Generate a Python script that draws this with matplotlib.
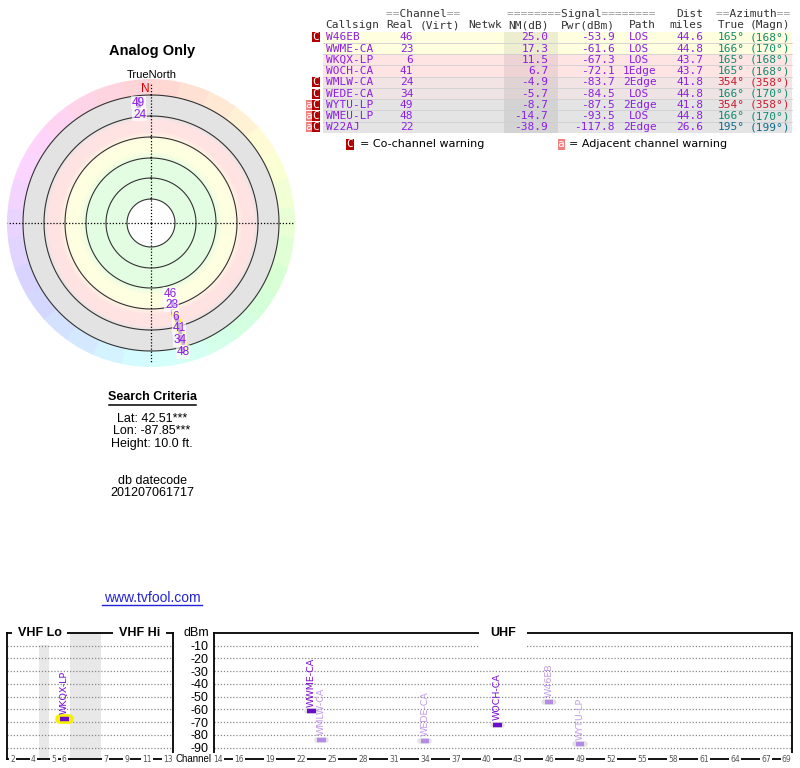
import colorsys
import numpy as np
import matplotlib.pyplot as plt
from matplotlib.patches import Rectangle

plt.rcParams['font.family'] = ['Liberation Sans', 'DejaVu Sans']

# Station table
callsigns = ['W46EB', 'WWME-CA', 'WKQX-LP', 'WOCH-CA', 'WMLW-CA', 'WEDE-CA', 'WYTU-LP', 'WMEU-LP', 'W22AJ']
real_ch = [46, 23, 6, 41, 24, 34, 49, 48, 22]
nm_db = [25.0, 17.3, 11.5, 6.7, -4.9, -5.7, -8.7, -14.7, -38.9]
pwr_dbm = [-53.9, -61.6, -67.3, -72.1, -83.7, -84.5, -87.5, -93.5, -117.8]
paths = ['LOS', 'LOS', 'LOS', '1Edge', '2Edge', 'LOS', '2Edge', 'LOS', '2Edge']
dist_mi = [44.6, 44.8, 43.7, 43.7, 41.8, 44.8, 41.8, 44.8, 26.6]
az_true = [165, 166, 165, 165, 354, 166, 354, 166, 195]
az_magn = [168, 170, 168, 168, 358, 170, 358, 170, 199]
co_warn = [True, False, False, False, True, True, True, True, True]
adj_warn = [False, False, False, False, False, False, True, True, True]
analog = ['WKQX-LP']

# Spectrum axes
dbm_ticks = [-10, -20, -30, -40, -50, -60, -70, -80, -90]
vhf_ticks = [2, 4, 5, 6, 7, 9, 11, 13]
uhf_ticks = [14, 16, 19, 22, 25, 28, 31, 34, 37, 40, 43, 46, 49, 52, 55, 58, 61, 64, 67, 69]
spectrum_floor = -90

PURPLE = '#8c1ee6'
MARK = '#6a0dc8'
LIGHT = '#b58ae6'

W, H = 800, 768
fig = plt.figure(figsize=(8, 7.68), dpi=100)


def px_axes(x0, y0, x1, y1, **kw):
    return fig.add_axes([x0 / W, 1 - y1 / H, (x1 - x0) / W, (y1 - y0) / H], **kw)


def vhf_x(ch):
    # channel slots with the 4/5 gap and the FM gap squeezed in
    return ch - 2 + (1 if ch >= 5 else 0) + (3 if ch >= 7 else 0)


def nm_to_r(nm):
    return 80 + (25 - nm) * 1.2


def az_color(az):
    v = 0.82 - 0.28 * np.sin(np.pi * az / 360)
    return colorsys.hsv_to_rgb(az / 360, 0.88, v)


def hexrgb(c):
    c = c.lstrip('#')
    return np.array([int(c[i:i + 2], 16) / 255 for i in (0, 2, 4)])


# ---------------- radar ----------------
ax_p = px_axes(7, 79, 295, 367, projection='polar')
ax_p.set_theta_zero_location('N')
ax_p.set_theta_direction(-1)
ax_p.set_ylim(0, 144)
ax_p.axis('off')

stops_r = [24, 64, 72, 84, 92, 103, 108, 128]
stops_c = [hexrgb(c) for c in ['#e2fde2', '#e2fde2', '#fefee0', '#fefee0',
                               '#ffe3e3', '#ffe3e3', '#e3e3e3', '#e3e3e3']]
for r in np.arange(24, 128, 1.0):
    col = [np.interp(r + 0.5, stops_r, [c[k] for c in stops_c]) for k in range(3)]
    ax_p.bar(0, 1.0, width=2 * np.pi, bottom=r, align='edge', color=col,
             edgecolor=col, linewidth=0.4)

n_seg = 30
for k in range(n_seg):
    az = (k + 0.5) * 360 / n_seg
    col = colorsys.hsv_to_rgb(az / 360, 0.17, 1.0)
    ax_p.bar(np.deg2rad(k * 360 / n_seg), 16, width=2 * np.pi / n_seg, bottom=128,
             align='edge', color=col, edgecolor=col, linewidth=0.4)

th = np.linspace(0, 2 * np.pi, 361)
for r in [24, 45, 65, 86, 107, 128]:
    ax_p.plot(th, np.full_like(th, r), color='#333333', lw=0.8)

for t, rr in [(0, 140), (np.pi, 140), (np.pi / 2, 144), (3 * np.pi / 2, 144)]:
    ax_p.plot([t, t], [0, rr], color='black', lw=0.9, ls=(0, (1, 1.5)))

last_label = {}
order = np.argsort([nm_to_r(n) for n in nm_db])
for i in order:
    r = nm_to_r(nm_db[i])
    if r > 140:
        continue
    t = np.deg2rad(az_true[i])
    if callsigns[i] in analog:
        ax_p.plot([t, t], [r - 3, r + 33], color='#ffee00', lw=5.5, solid_capstyle='round', zorder=3)
        ax_p.plot([t, t], [r, r + 30], color=MARK, lw=2.5, solid_capstyle='butt', zorder=3)
    ax_p.plot([t, t], [r, r + 6], color=MARK, lw=3, solid_capstyle='butt', zorder=3)
    key = round(az_true[i] / 5)
    lr = r - 7
    if key in last_label:
        lr = max(lr, last_label[key] + 12)
    last_label[key] = lr
    ax_p.text(t, lr, str(real_ch[i]), ha='center', va='center', fontsize=8.5,
              color=PURPLE, zorder=4,
              bbox=dict(boxstyle='square,pad=0.05', fc='white', ec='none', alpha=0.65))

# ---------------- spectrum ----------------
ax_v = px_axes(7, 633, 173, 759)
ax_u = px_axes(214, 633, 792, 759)
ax_v.set_xlim(-0.55, 15.5)
ax_u.set_xlim(13.6, 69.5)
for ax in (ax_v, ax_u):
    ax.set_ylim(-99, 0)
    ax.set_yticks(dbm_ticks)
    ax.set_xticks([])
    ax.grid(axis='y', color='#888888', lw=0.9, ls=(0, (1, 1.5)))
    ax.tick_params(axis='y', length=0)
    for s in ax.spines.values():
        s.set_linewidth(1.3)
ax_v.set_yticklabels([])
ax_u.set_yticklabels([str(v) for v in dbm_ticks], fontsize=9)
ax_u.tick_params(axis='y', pad=4)

ax_v.axvspan(vhf_x(4) + 0.5, vhf_x(5) - 0.5, color='#e8e8e8', lw=0, zorder=0)
ax_v.axvspan(vhf_x(6) + 0.5, vhf_x(7) - 0.5, color='#e8e8e8', lw=0, zorder=0)

for ax, ticks, fx in [(ax_v, vhf_ticks, vhf_x), (ax_u, uhf_ticks, lambda c: c)]:
    for c in ticks:
        ax.text(fx(c), 0, str(c), transform=ax.get_xaxis_transform(), ha='center',
                va='center', fontsize=5.5, color='#555555', family='DejaVu Sans',
                clip_on=False, zorder=5,
                bbox=dict(boxstyle='square,pad=0.15', fc='white', ec='none'))

for i in range(len(callsigns)):
    if pwr_dbm[i] < spectrum_floor:
        continue
    ch = real_ch[i]
    ax, x = (ax_v, vhf_x(ch)) if ch <= 13 else (ax_u, ch)
    bar_c, txt_c = (LIGHT, '#c09ce8') if co_warn[i] else (MARK, '#7a0ad6')
    if callsigns[i] in analog:
        ax.plot([x - 0.45, x + 0.45], [pwr_dbm[i]] * 2, color='#f5f000', lw=7,
                solid_capstyle='round', zorder=3)
    else:
        ax.plot([x - 0.44, x + 0.44], [pwr_dbm[i]] * 2, color='#e2e2e2', lw=4,
                solid_capstyle='round', zorder=3)
    ax.plot([x - 0.42, x + 0.42], [pwr_dbm[i]] * 2, color=bar_c, lw=3.2,
            solid_capstyle='butt', zorder=4)
    ax.text(x, pwr_dbm[i] + 3.5, callsigns[i], rotation=90, ha='center', va='bottom',
            fontsize=6.8, family='DejaVu Sans', color=txt_c, zorder=4)

# ---------------- overlay: texts and table ----------------
ax_bg = px_axes(0, 0, W, H)
ax_bg.set_xlim(0, W)
ax_bg.set_ylim(H, 0)
ax_bg.axis('off')
ax_bg.set_zorder(10)

ax_bg.text(152, 51, 'Analog Only', fontsize=10.5, weight='bold', ha='center', va='center')
ax_bg.text(152, 75, 'TrueNorth', fontsize=8, ha='center', va='center')
ax_bg.text(145.5, 89, 'N', fontsize=8.5, ha='center', va='center', color='#dd0000')

ax_bg.text(152, 397, 'Search Criteria', fontsize=9, weight='bold', ha='center', va='center')
ax_bg.plot([108.5, 195.5], [404.5, 404.5], color='black', lw=1.1)
for y, s in [(418.5, 'Lat: 42.51***'), (431, 'Lon: -87.85***'), (444, 'Height: 10.0 ft.'),
             (481.5, 'db datecode'), (493.5, '201207061717')]:
    ax_bg.text(152, y, s, fontsize=9, ha='center', va='center')
ax_bg.text(152, 598, 'www.tvfool.com', fontsize=10, ha='center', va='center', color='#2222dd')
ax_bg.plot([102, 202], [604.5, 604.5], color='#2222dd', lw=1)

# spectrum headers
hdr_box = dict(boxstyle='square,pad=0.45', fc='white', ec='none')
ax_bg.text(39.5, 633, 'VHF Lo', fontsize=9, weight='bold', ha='center', va='center', bbox=hdr_box)
ax_bg.text(139.5, 633, 'VHF Hi', fontsize=9, weight='bold', ha='center', va='center', bbox=hdr_box)
ax_bg.text(503, 633, 'UHF', fontsize=9, weight='bold', ha='center', va='center',
           bbox=dict(boxstyle='square,pad=0.9', fc='white', ec='none'))
ax_bg.text(196, 633, 'dBm', fontsize=9, ha='center', va='center')
ax_bg.text(194, 758.5, 'Channel', fontsize=7, ha='center', va='center')

# table
mono = 'DejaVu Sans Mono'
row_y0, row_h = 31.7, 11.25
band_nm = [-8, -2, 13, 16]
band_c = [hexrgb(c) for c in ['#e4e4e4', '#ffe4e4', '#ffe4e4', '#ffffe0']]

hdr_gray = '#9a9a9a'
hdr_dark = '#333333'
for x, ha, gray, dark in [
        (423.5, 'center', '==       ==', '  Channel  '),
        (581.5, 'center', '========      ========', '        Signal        '),
        (753.5, 'center', '==       ==', '  Azimuth  ')]:
    ax_bg.text(x, 14, gray, family=mono, fontsize=8, color=hdr_gray, ha=ha, va='center')
    ax_bg.text(x, 14, dark, family=mono, fontsize=8, color=hdr_dark, ha=ha, va='center')
ax_bg.text(703, 14, 'Dist', family=mono, fontsize=8, color=hdr_dark, ha='right', va='center')
for x, ha, s in [(325.7, 'left', 'Callsign'), (413.3, 'right', 'Real'), (420, 'left', '(Virt)'),
                 (468, 'left', 'Netwk'), (548.3, 'right', 'NM(dB)'), (615, 'right', 'Pwr(dBm)'),
                 (642, 'center', 'Path'), (703, 'right', 'miles'), (717.3, 'left', 'True'),
                 (750, 'left', '(Magn)')]:
    ax_bg.text(x, 25.5, s, family=mono, fontsize=8, color=hdr_dark, ha=ha, va='center')

for i in range(len(callsigns)):
    top = row_y0 + i * row_h
    yc = top + row_h / 2
    col = [np.interp(nm_db[i], band_nm, [c[k] for c in band_c]) for k in range(3)]
    ax_bg.add_patch(Rectangle((323, top), 469, row_h, fc=col, ec='none'))
    ax_bg.add_patch(Rectangle((504, top), 54, row_h, fc='black', alpha=0.07, ec='none'))
    if i > 0:
        ax_bg.plot([323, 792], [top, top], color='#cfcfcf', lw=0.6)
    if co_warn[i]:
        ax_bg.add_patch(Rectangle((312, top + 0.6), 8, row_h - 1.2, fc='#b30000', ec='none'))
        ax_bg.text(316, yc, 'C', family=mono, fontsize=8, color='white', ha='center', va='center')
    if adj_warn[i]:
        ax_bg.add_patch(Rectangle((305.5, top + 0.6), 6.5, row_h - 1.2, fc='#f08080', ec='none'))
        ax_bg.text(308.8, yc, 'a', family=mono, fontsize=8, color='white', ha='center', va='center')
    ac = az_color(az_true[i])
    for x, ha, s, c in [(325.7, 'left', callsigns[i], PURPLE),
                        (413.3, 'right', str(real_ch[i]), PURPLE),
                        (548.3, 'right', f'{nm_db[i]:.1f}', PURPLE),
                        (615, 'right', f'{pwr_dbm[i]:.1f}', PURPLE),
                        (639.5, 'center', paths[i], PURPLE),
                        (703, 'right', f'{dist_mi[i]:.1f}', PURPLE),
                        (717.3, 'left', f'{az_true[i]}°', ac),
                        (750, 'left', f'({az_magn[i]}°)', ac)]:
        ax_bg.text(x, yc, s, family=mono, fontsize=8, color=c, ha=ha, va='center')

# legend under the table
ax_bg.add_patch(Rectangle((346, 138.5), 7.5, 11, fc='#b30000', ec='none'))
ax_bg.text(349.8, 144, 'C', family=mono, fontsize=8, color='white', ha='center', va='center')
ax_bg.text(360, 144, '= Co-channel warning', family='DejaVu Sans', fontsize=8, ha='left', va='center')
ax_bg.add_patch(Rectangle((557.5, 138.5), 7, 11, fc='#f08080', ec='none'))
ax_bg.text(561, 144, 'a', family=mono, fontsize=8, color='white', ha='center', va='center')
ax_bg.text(569, 144, '= Adjacent channel warning', family='DejaVu Sans', fontsize=8, ha='left', va='center')

fig.savefig('out.png', dpi=100)
